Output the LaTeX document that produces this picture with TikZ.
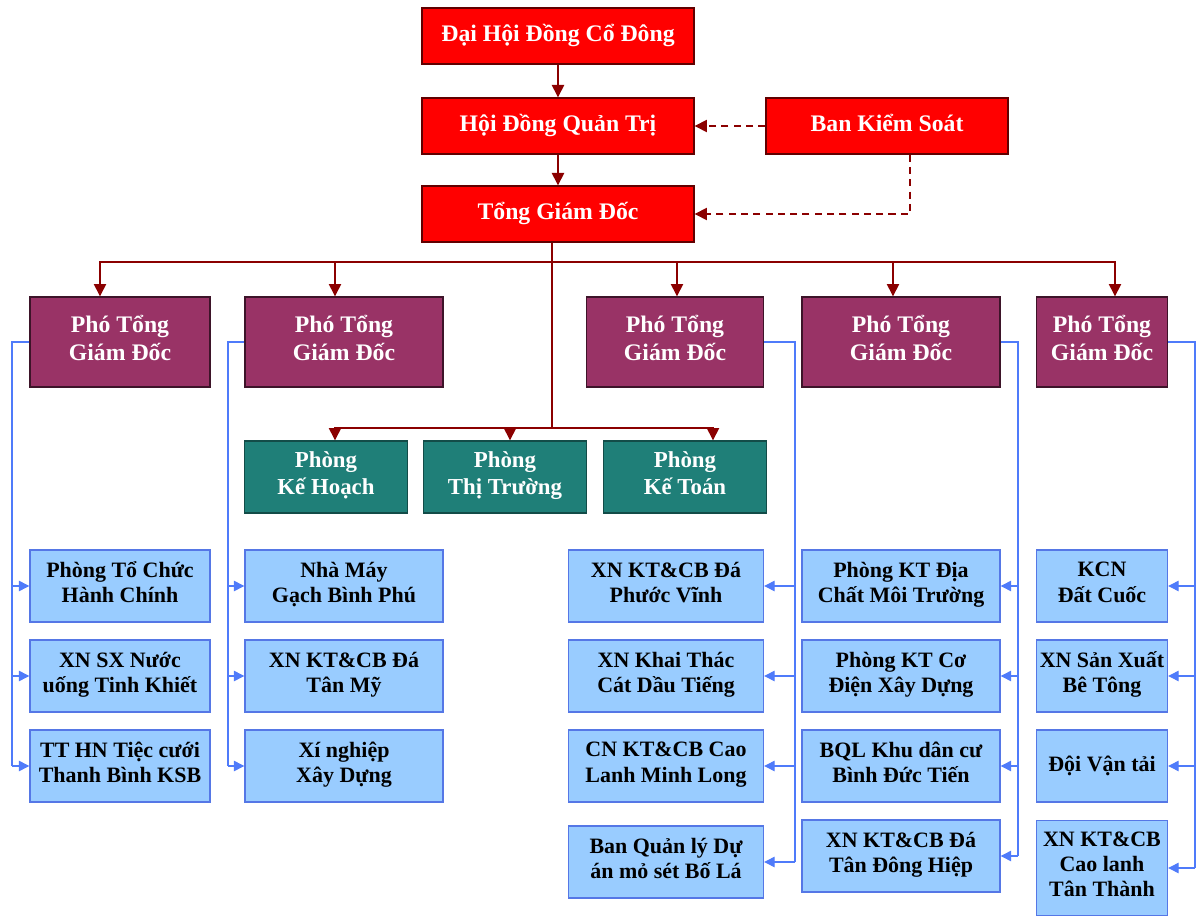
\documentclass[tikz,border=0pt]{standalone}
\usepackage{fontspec}
\setmainfont{Liberation Serif}
\usetikzlibrary{arrows.meta}

\definecolor{boardred}{HTML}{FF0000}
\definecolor{deputy}{HTML}{993366}
\definecolor{office}{HTML}{1F7F78}
\definecolor{unitblue}{HTML}{99CCFF}
\definecolor{unitedge}{HTML}{5577E6}
\definecolor{wirered}{HTML}{8B0000}
\definecolor{wireblue}{HTML}{4F7BFA}

\tikzset{
  box/.style={draw, line width=0.8pt, inner sep=1pt, align=center,
    execute at begin node=\strut, execute at end node=\strut},
  board/.style={box, fill=boardred, draw=wirered!70!black, text=white,
    minimum height=1.12cm, font=\fontsize{13.5}{16}\selectfont\bfseries},
  deputybox/.style={box, fill=deputy, draw=deputy!40!black, text=white,
    minimum height=1.8cm, font=\fontsize{13.5}{16}\selectfont\bfseries},
  officebox/.style={box, fill=office, draw=office!60!black, text=white,
    minimum width=3.26cm, minimum height=1.44cm,
    font=\fontsize{13}{15.5}\selectfont\bfseries},
  unitbox/.style={box, fill=unitblue, draw=unitedge,
    minimum height=1.44cm, font=\fontsize{12.5}{14.5}\selectfont\bfseries},
  redwire/.style={draw=wirered, line width=0.8pt},
  redarrow/.style={redwire, -{Triangle[length=7pt, width=7pt]}},
  reddash/.style={redarrow, dashed, dash pattern=on 4pt off 3pt},
  bluewire/.style={draw=wireblue, line width=0.7pt},
  bluearrow/.style={bluewire, -{Triangle[length=6pt, width=6pt]}}
}

\begin{document}
\begin{tikzpicture}[x=0.02cm, y=-0.02cm]
    \useasboundingbox (0,0) rectangle (1200,918);

    % Board level
    \node[board, minimum width=5.44cm] (dhdcd) at (558,36) {Đại Hội Đồng Cổ Đông};
    \node[board, minimum width=5.44cm] (hdqt) at (558,126) {Hội Đồng Quản Trị};
    \node[board, minimum width=4.84cm] (bks) at (887,126) {Ban Kiểm Soát};
    \node[board, minimum width=5.44cm] (tgd) at (558,214) {Tổng Giám Đốc};

    \draw[redarrow] (dhdcd) -- (hdqt);
    \draw[redarrow] (hdqt) -- (tgd);
    \draw[reddash] (bks.west) -- (hdqt.east);
    \draw[reddash] ([xshift=0.46cm]bks.south) |- (tgd.east);

    % Deputy directors
    \node[deputybox, minimum width=3.6cm] (pho1) at (120,342) {Phó Tổng\\Giám Đốc};
    \node[deputybox, minimum width=3.96cm] (pho2) at (344,342) {Phó Tổng\\Giám Đốc};
    \node[deputybox, minimum width=3.54cm] (pho3) at (675,342) {Phó Tổng\\Giám Đốc};
    \node[deputybox, minimum width=3.96cm] (pho4) at (901,342) {Phó Tổng\\Giám Đốc};
    \node[deputybox, minimum width=2.62cm] (pho5) at (1102,342) {Phó Tổng\\Giám Đốc};

    \coordinate (split) at (552,262);
    \draw[redwire] (tgd.south -| split) -- (split);
    \foreach \n/\dx in {pho1/-20, pho2/-9, pho3/2, pho4/-8, pho5/13}
      \draw[redarrow] (split) -| ([xshift=\dx*0.02cm]\n.north);

    % Offices
    \node[officebox] (pkh) at (326,477) {Phòng\\Kế Hoạch};
    \node[officebox] (ptt) at (505,477) {Phòng\\Thị Trường};
    \node[officebox] (pkt) at (685,477) {Phòng\\Kế Toán};

    \coordinate (split2) at (552,428);
    \draw[redwire] (split) -- (split2);
    \foreach \n/\dx in {pkh/9, ptt/5, pkt/28}
      \draw[redarrow] (split2) -| ([xshift=\dx*0.02cm]\n.north);

    % Units, column 1
    \node[unitbox, minimum width=3.6cm] (u11) at (120,586) {Phòng Tổ Chức\\Hành Chính};
    \node[unitbox, minimum width=3.6cm] (u12) at (120,676) {XN SX Nước\\uống Tinh Khiết};
    \node[unitbox, minimum width=3.6cm] (u13) at (120,766) {TT HN Tiệc cưới\\Thanh Bình KSB};

    % Units, column 2
    \node[unitbox, minimum width=3.96cm] (u21) at (344,586) {Nhà Máy\\Gạch Bình Phú};
    \node[unitbox, minimum width=3.96cm] (u22) at (344,676) {XN KT\&CB Đá\\Tân Mỹ};
    \node[unitbox, minimum width=3.96cm] (u23) at (344,766) {Xí nghiệp\\Xây Dựng};

    % Units, column 3
    \node[unitbox, minimum width=3.9cm] (u31) at (666,586) {XN KT\&CB Đá\\Phước Vĩnh};
    \node[unitbox, minimum width=3.9cm] (u32) at (666,676) {XN Khai Thác\\Cát Dầu Tiếng};
    \node[unitbox, minimum width=3.9cm] (u33) at (666,766) {CN KT\&CB Cao\\Lanh Minh Long};
    \node[unitbox, minimum width=3.9cm] (u34) at (666,862) {Ban Quản lý Dự\\án mỏ sét Bố Lá};

    % Units, column 4
    \node[unitbox, minimum width=3.96cm] (u41) at (901,586) {Phòng KT Địa\\Chất Môi Trường};
    \node[unitbox, minimum width=3.96cm] (u42) at (901,676) {Phòng KT Cơ\\Điện Xây Dựng};
    \node[unitbox, minimum width=3.96cm] (u43) at (901,766) {BQL Khu dân cư\\Bình Đức Tiến};
    \node[unitbox, minimum width=3.96cm] (u44) at (901,856) {XN KT\&CB Đá\\Tân Đông Hiệp};

    % Units, column 5
    \node[unitbox, minimum width=2.62cm] (u51) at (1102,586) {KCN\\Đất Cuốc};
    \node[unitbox, minimum width=2.62cm] (u52) at (1102,676) {XN Sản Xuất\\Bê Tông};
    \node[unitbox, minimum width=2.62cm] (u53) at (1102,766) {Đội Vận tải};
    \node[unitbox, minimum width=2.62cm, minimum height=1.9cm] (u54) at (1102,868) {XN KT\&CB\\Cao lanh\\Tân Thành};

    % Blue feeders
    \coordinate (bus1) at (12,342);
    \coordinate (bus2) at (228,342);
    \coordinate (bus3) at (795,342);
    \coordinate (bus4) at (1018,342);
    \coordinate (bus5) at (1195,342);

    \draw[bluewire] (pho1.west) -- (bus1) -- (bus1 |- u13.west);
    \foreach \n in {u11,u12,u13}
      \draw[bluearrow] (bus1 |- \n.west) -- (\n.west);

    \draw[bluewire] (pho2.west) -- (bus2) -- (bus2 |- u23.west);
    \foreach \n in {u21,u22,u23}
      \draw[bluearrow] (bus2 |- \n.west) -- (\n.west);

    \draw[bluewire] (pho3.east) -- (bus3) -- (bus3 |- u34.east);
    \foreach \n in {u31,u32,u33,u34}
      \draw[bluearrow] (bus3 |- \n.east) -- (\n.east);

    \draw[bluewire] (pho4.east) -- (bus4) -- (bus4 |- u44.east);
    \foreach \n in {u41,u42,u43,u44}
      \draw[bluearrow] (bus4 |- \n.east) -- (\n.east);

    \draw[bluewire] (pho5.east) -- (bus5) -- (bus5 |- u54.east);
    \foreach \n in {u51,u52,u53,u54}
      \draw[bluearrow] (bus5 |- \n.east) -- (\n.east);
\end{tikzpicture}
\end{document}
